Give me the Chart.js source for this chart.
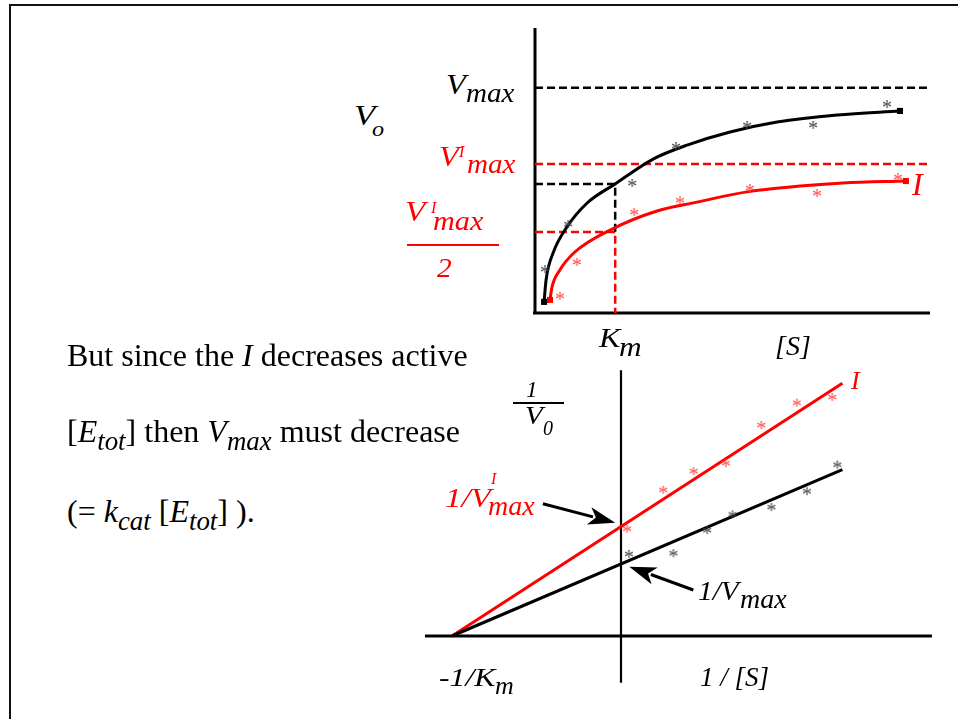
<!DOCTYPE html>
<html>
<head>
<meta charset="utf-8">
<script src="https://cdn.jsdelivr.net/npm/chart.js@4.4.1/dist/chart.umd.min.js"></script>
<style>
  html, body { margin: 0; padding: 0; background: #fff; }
  #page { position: relative; width: 958px; height: 719px; overflow: hidden;
          font-family: "Liberation Serif", "Times New Roman", serif; }
  #frame { position: absolute; left: 9px; top: 4px; width: 1000px; height: 800px;
           border-left: 2.5px solid #111; border-top: 2.5px solid #111; }
  canvas { position: absolute; }
  .t { position: absolute; white-space: nowrap; line-height: 1; font-style: italic;
       transform-origin: left bottom; }
  .body { position: absolute; white-space: nowrap; line-height: 1; font-size: 32px; color: #000; }
  .body sub { vertical-align: baseline; position: relative; top: 0.3em; font-size: 0.84em;
              font-style: italic; line-height: 0; }
  .rule { position: absolute; height: 2px; }
</style>
</head>
<body>
<div id="page">
  <div id="frame"></div>
  <canvas id="mm" width="450" height="320" style="left:500px;top:10px"></canvas>
  <canvas id="lb" width="520" height="330" style="left:420px;top:360px"></canvas>
  <div class="body" style="left:67px;top:339px">But since the <i>I</i> decreases active</div>
  <div class="body" style="left:67px;top:415px">[<i>E</i><sub>tot</sub>] then <i>V</i><sub>max</sub> must decrease</div>
  <div class="body" style="left:67px;top:495px">(= <i>k</i><sub>cat</sub> [<i>E</i><sub>tot</sub>] ).</div>
  <div class="rule" style="left:407px;top:244px;width:92px;background:#f00"></div>
  <div class="rule" style="left:513px;top:402px;width:51px;background:#000"></div>
</div>
<script>
// ---- Michaelis–Menten plot: V0 against [S] (arbitrary units) ----
const substrate       = [2.3, 2.8, 4.6, 8.1, 13.2, 20.3, 29.9, 38.5, 49.4, 61.3, 76.5, 92.4];
const rateUninhibited = [3.9, 11.6, 21.1, 30.2, 38.6, 45.3, 54.0, 58.9, 63.5, 67.0, 69.5, 70.9];
const substrateInhib  = [3.8, 4.3, 6.3, 10.1, 19.0, 30.9, 41.0, 53.7, 78.0, 93.9];
const rateInhibited   = [4.6, 9.1, 15.1, 21.4, 29.1, 35.8, 38.9, 42.5, 45.6, 46.3];
const measuredS       = [2.5, 8.4, 24.6, 35.7, 53.7, 70.4, 89.1];
const measuredV       = [15.4, 31.2, 45.6, 58.6, 66.0, 66.0, 73.3];
const measuredSInhib  = [6.3, 10.6, 25.1, 36.7, 54.4, 71.4, 91.9];
const measuredVInhib  = [6.0, 17.9, 35.4, 39.6, 43.9, 42.1, 47.7];
const vmax = 79.0, vmaxInhib = 52.3;
const km = 20.3, halfLevel = 45.3, halfLevelInhib = 28.4;
const sAxisEnd = 100, vAxisTop = 100;

// ---- Lineweaver–Burk plot: 1/V0 against 1/[S] ----
const fitX          = [-1.0, 1.31];
const fitY          = [0.0, 2.31];
const fitYInhib     = [0.0, 3.51];
const invS          = [0.047, 0.31, 0.51, 0.66, 0.89, 1.10, 1.28];
const invV          = [1.14, 1.15, 1.47, 1.69, 1.79, 2.01, 2.38];
const invSInhib     = [0.036, 0.25, 0.43, 0.62, 0.83, 1.04, 1.25];
const invVInhib     = [1.49, 2.03, 2.29, 2.40, 2.93, 3.24, 3.32];
const invSAxis      = [-1.16, 1.84];
const invVAxis      = [-0.65, 3.69];
const arrowToInhib  = [[-0.462, 1.837], [-0.034, 1.574]];
const arrowToPlain  = [[0.428, 0.639], [0.049, 0.963]];

const RED = '#ff0000', BLACK = '#000000';
const zip = (xs, ys) => xs.map((x, i) => ({ x, y: ys[i] }));

function asteriskMark(color) {
  const c = document.createElement('canvas');
  c.width = c.height = 14;
  const g = c.getContext('2d');
  g.fillStyle = color;
  g.font = '20px "Liberation Serif"';
  g.textAlign = 'center';
  g.textBaseline = 'alphabetic';
  const m = g.measureText('*');
  g.fillText('*', 7, 7 + (m.actualBoundingBoxAscent - m.actualBoundingBoxDescent) / 2);
  return c;
}
const starGrey = asteriskMark('#444');
const starRed = asteriskMark('#ff4a4a');

function endSquares(n, r) {
  return ctx => (ctx.dataIndex === 0 || ctx.dataIndex === n - 1) ? r : 0;
}

// axis lines and arrows, placed through the chart's own scales
const decorations = {
  id: 'decorations',
  beforeDatasetsDraw(chart, args, opts) {
    const { ctx, scales: { x, y } } = chart;
    ctx.save();
    ctx.strokeStyle = '#000';
    for (const s of opts.axes || []) {
      ctx.lineWidth = s.w;
      ctx.beginPath();
      ctx.moveTo(x.getPixelForValue(s.a[0]), y.getPixelForValue(s.a[1]));
      ctx.lineTo(x.getPixelForValue(s.b[0]), y.getPixelForValue(s.b[1]));
      ctx.stroke();
    }
    ctx.restore();
  },
  afterDatasetsDraw(chart, args, opts) {
    const { ctx, scales: { x, y } } = chart;
    ctx.save();
    ctx.fillStyle = '#000';
    ctx.strokeStyle = '#000';
    for (const [from, to] of opts.arrows || []) {
      const x0 = x.getPixelForValue(from[0]), y0 = y.getPixelForValue(from[1]);
      const x1 = x.getPixelForValue(to[0]), y1 = y.getPixelForValue(to[1]);
      const ang = Math.atan2(y1 - y0, x1 - x0);
      const len = 27, half = 9, notch = 7;
      ctx.lineWidth = 3;
      ctx.beginPath();
      ctx.moveTo(x0, y0);
      ctx.lineTo(x1 - (len - 4) * Math.cos(ang), y1 - (len - 4) * Math.sin(ang));
      ctx.stroke();
      ctx.translate(x1, y1);
      ctx.rotate(ang);
      ctx.beginPath();
      ctx.moveTo(0, 0);
      ctx.lineTo(-len, -half);
      ctx.lineTo(-len + notch, 0);
      ctx.lineTo(-len, half);
      ctx.closePath();
      ctx.fill();
      ctx.setTransform(1, 0, 0, 1, 0, 0);
    }
    ctx.restore();
  }
};

const baseOptions = (xr, yr, plug) => ({
  responsive: false,
  animation: false,
  layout: { padding: 0, autoPadding: false },
  plugins: { legend: { display: false }, tooltip: { enabled: false }, decorations: plug },
  scales: {
    x: { type: 'linear', display: false, min: xr[0], max: xr[1] },
    y: { type: 'linear', display: false, min: yr[0], max: yr[1] }
  },
  elements: { point: { radius: 0 } }
});

const dashed = (pts, color) => ({
  data: pts, borderColor: color, borderWidth: 2.5, borderDash: [8, 4],
  pointRadius: 0, tension: 0, order: 5, fill: false
});

new Chart(document.getElementById('mm'), {
  type: 'scatter',
  data: {
    datasets: [
      { data: zip(substrate, rateUninhibited), showLine: true, borderColor: BLACK, borderWidth: 3,
        cubicInterpolationMode: 'monotone', pointStyle: 'rect',
        pointRadius: endSquares(substrate.length, 4.3), pointBackgroundColor: BLACK,
        pointBorderColor: BLACK, pointBorderWidth: 0, order: 1 },
      { data: zip(substrateInhib, rateInhibited), showLine: true, borderColor: RED, borderWidth: 3,
        cubicInterpolationMode: 'monotone', pointStyle: 'rect',
        pointRadius: endSquares(substrateInhib.length, 4.3), pointBackgroundColor: RED,
        pointBorderColor: RED, pointBorderWidth: 0, order: 2 },
      { data: zip(measuredS, measuredV), showLine: false, pointStyle: starGrey, pointRadius: 5, order: 0 },
      { data: zip(measuredSInhib, measuredVInhib), showLine: false, pointStyle: starRed, pointRadius: 5, order: 0 },
      { ...dashed([{ x: 0, y: vmax }, { x: sAxisEnd, y: vmax }], BLACK), showLine: true },
      { ...dashed([{ x: 0, y: vmaxInhib }, { x: sAxisEnd, y: vmaxInhib }], RED), showLine: true },
      { ...dashed([{ x: 0, y: halfLevel }, { x: km, y: halfLevel }, { x: km, y: halfLevelInhib }], BLACK), showLine: true },
      { ...dashed([{ x: 0, y: halfLevelInhib }, { x: km, y: halfLevelInhib }, { x: km, y: 0 }], RED), showLine: true }
    ]
  },
  options: baseOptions([-8.861, 105.063], [-5.965, 106.316], {
    axes: [
      { a: [0, 0], b: [0, vAxisTop], w: 3 },
      { a: [-0.5, 0], b: [sAxisEnd, 0], w: 3 }
    ]
  }),
  plugins: [decorations]
});

new Chart(document.getElementById('lb'), {
  type: 'scatter',
  data: {
    datasets: [
      { data: zip(fitX, fitYInhib), showLine: true, borderColor: RED, borderWidth: 3, pointRadius: 0, order: 2 },
      { data: zip(fitX, fitY), showLine: true, borderColor: BLACK, borderWidth: 3, pointRadius: 0, order: 1 },
      { data: zip(invS, invV), showLine: false, pointStyle: starGrey, pointRadius: 5, order: 0 },
      { data: zip(invSInhib, invVInhib), showLine: false, pointStyle: starRed, pointRadius: 5, order: 0 }
    ]
  },
  options: baseOptions([-1.1893, 1.8876], [-0.75, 3.8333], {
    axes: [
      { a: [invSAxis[0], 0], b: [invSAxis[1], 0], w: 2.8 },
      { a: [0, invVAxis[0]], b: [0, invVAxis[1]], w: 2.2 }
    ],
    arrows: [arrowToInhib, arrowToPlain]
  }),
  plugins: [decorations]
});

// ---- axis and curve labels ----
const page = document.getElementById('page');
function label(x, baseline, text, size, color, sx = 1) {
  const d = document.createElement('div');
  d.className = 't';
  d.textContent = text;
  d.style.left = x + 'px';
  d.style.top = (baseline - 0.8375 * size) + 'px';
  d.style.fontSize = size + 'px';
  d.style.color = color;
  if (sx !== 1) d.style.transform = 'scaleX(' + sx + ')';
  page.appendChild(d);
}
// Michaelis–Menten labels
label(354, 125, 'V', 29, BLACK, 1.2);
label(372, 136, 'o', 22, BLACK, 1.1);
label(446, 94, 'V', 29, BLACK, 1.12);
label(466, 102, 'max', 28, BLACK, 1.04);
label(439, 166, 'V', 29, RED, 1.12);
label(459, 157, 'I', 16, RED);
label(467, 173, 'max', 28, RED, 1.04);
label(405, 221, 'V', 29, RED, 1.15);
label(431, 213, 'I', 16, RED);
label(433, 230, 'max', 28, RED, 1.08);
label(437, 277, '2', 28, RED, 1.05);
label(599, 347, 'K', 28, BLACK, 1.15);
label(619, 356, 'm', 28, BLACK, 1.12);
label(775, 355, '[S]', 28, BLACK);
label(912, 195, 'I', 32, RED);
// Lineweaver–Burk labels
label(526, 397, '1', 23, BLACK);
label(525, 425, 'V', 26, BLACK, 1.12);
label(543, 435, '0', 20, BLACK);
label(445, 507, '1/V', 28, RED, 1.18);
label(491, 484, 'I', 16, RED);
label(488, 515, 'max', 28, RED);
label(698, 600, '1/V', 28, BLACK, 1.05);
label(740, 608, 'max', 28, BLACK);
label(851, 390, 'I', 26, RED);
label(439, 687, '-1/K', 26, BLACK, 1.22);
label(495, 695, 'm', 26, BLACK);
label(700, 687, '1 / [S]', 27, BLACK);
</script>
</body>
</html>
